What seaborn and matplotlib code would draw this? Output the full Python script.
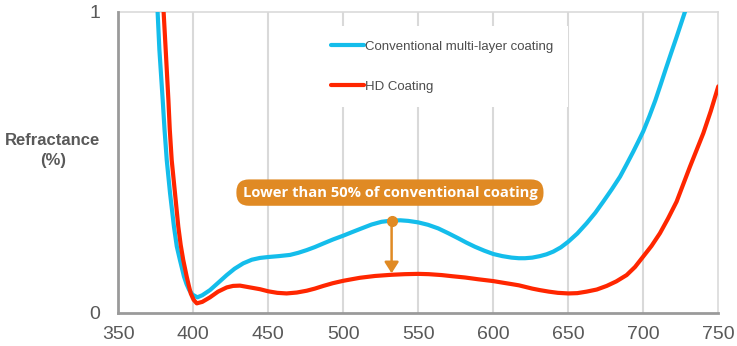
import numpy as np
import pandas as pd
import matplotlib
matplotlib.use("Agg")
import matplotlib.pyplot as plt
import seaborn as sns

# ---- data ----
conv_x = [374.5, 376.2, 377.4, 378.5, 379.6, 380.8, 382.3, 384.5, 387.1, 389.0, 391.1,
          393.8, 395.5, 397.3, 399.5, 402.7, 406.0, 411.1, 416.5, 422.3, 427.5, 433.3,
          439.0, 444.5, 450.0, 457.0, 464.5, 470.0, 475.6, 481.0, 486.7, 493.0, 500.0,
          505.5, 511.1, 518.9, 525.5, 532.2, 538.0, 543.3, 550.0, 556.5, 563.3, 570.0,
          576.7, 582.0, 587.8, 594.0, 600.0, 606.0, 612.2, 617.0, 621.1, 626.0, 631.1,
          635.5, 640.0, 645.0, 650.0, 656.0, 662.2, 668.0, 673.3, 679.0, 684.5, 689.0,
          693.3, 696.8, 700.0, 704.0, 708.0, 711.5, 715.0, 718.5, 722.0, 725.0, 727.8,
          731.0]
conv_y = [1.15, 1.00, 0.873, 0.79, 0.707, 0.61, 0.507, 0.397, 0.286, 0.22, 0.175,
          0.12, 0.095, 0.075, 0.060, 0.051, 0.058, 0.075, 0.099, 0.125, 0.146, 0.164,
          0.176, 0.182, 0.185, 0.188, 0.192, 0.199, 0.208, 0.218, 0.230, 0.243, 0.256,
          0.267, 0.278, 0.293, 0.302, 0.306, 0.307, 0.305, 0.300, 0.292, 0.280, 0.264,
          0.247, 0.233, 0.219, 0.206, 0.195, 0.188, 0.183, 0.181, 0.181, 0.183, 0.188,
          0.194, 0.203, 0.217, 0.236, 0.263, 0.297, 0.332, 0.369, 0.410, 0.452, 0.494,
          0.535, 0.570, 0.603, 0.652, 0.705, 0.757, 0.810, 0.862, 0.913, 0.958, 1.00,
          1.05]

hd_x = [379.0, 380.2, 381.6, 382.5, 383.4, 384.3, 385.6, 387.8, 390.0, 391.6, 393.3,
        395.6, 397.0, 398.3, 400.2, 402.3, 406.0, 411.1, 416.5, 422.3, 426.5, 431.1,
        437.8, 444.5, 450.0, 456.0, 462.2, 469.0, 475.6, 481.0, 486.7, 493.0, 500.0,
        505.5, 511.1, 521.1, 532.2, 541.0, 550.0, 557.0, 565.6, 573.0, 581.1, 590.0,
        600.0, 606.0, 612.2, 617.0, 621.1, 626.0, 631.1, 637.0, 643.0, 650.0, 656.0,
        662.2, 669.0, 675.6, 682.0, 688.9, 694.5, 700.0, 705.5, 711.1, 716.5, 722.2,
        726.5, 731.1, 735.5, 740.0, 745.0, 750.0]
hd_y = [1.15, 1.00, 0.873, 0.79, 0.707, 0.61, 0.507, 0.397, 0.286, 0.225, 0.175,
        0.120, 0.090, 0.064, 0.043, 0.031, 0.036, 0.051, 0.070, 0.084, 0.089, 0.090,
        0.084, 0.078, 0.071, 0.066, 0.064, 0.067, 0.073, 0.080, 0.089, 0.098, 0.106,
        0.111, 0.116, 0.122, 0.126, 0.128, 0.129, 0.128, 0.125, 0.121, 0.117, 0.111,
        0.105, 0.100, 0.095, 0.091, 0.086, 0.080, 0.075, 0.070, 0.066, 0.064, 0.065,
        0.070, 0.077, 0.089, 0.104, 0.125, 0.152, 0.187, 0.222, 0.264, 0.313, 0.369,
        0.425, 0.485, 0.540, 0.596, 0.670, 0.752]

series_names = ["Conventional multi-layer coating", "HD Coating"]
series_colors = ["#14BDEB", "#FF2600"]
x_ticks = [350, 400, 450, 500, 550, 600, 650, 700, 750]
y_ticks = [0, 1]
y_label = "Refractance\n(%)"
annot_text = "Lower than 50% of conventional coating"
annot_x = 532.2
annot_y_top = 0.306
annot_y_bottom = 0.131

df = pd.concat([
    pd.DataFrame({"wavelength": conv_x, "value": conv_y, "series": series_names[0]}),
    pd.DataFrame({"wavelength": hd_x, "value": hd_y, "series": series_names[1]}),
], ignore_index=True)

sns.set_theme(style="white")
plt.rcParams["font.family"] = ["Liberation Sans", "DejaVu Sans"]

fig = plt.figure(figsize=(7.37, 3.46), dpi=100)
ax = fig.add_axes([118.3 / 737, 33.3 / 346, 600 / 737, 301 / 346])

sns.lineplot(data=df, x="wavelength", y="value", hue="series",
             palette=dict(zip(series_names, series_colors)),
             estimator=None, sort=False, linewidth=3.0, legend=False, ax=ax,
             zorder=3, solid_joinstyle="round", solid_capstyle="round")

ax.set_xlim(350, 750)
ax.set_ylim(0, 1)
ax.set_xticks(x_ticks)
ax.set_xticklabels([str(t) for t in x_ticks])
ax.set_yticks(y_ticks)
ax.set_yticklabels([str(t) for t in y_ticks])
ax.tick_params(axis="both", length=0, labelsize=14, labelcolor="#595959")
ax.tick_params(axis="x", pad=9.5)
ax.tick_params(axis="y", pad=13)

ax.grid(False)
for xv in x_ticks[1:-1]:
    ax.axvline(xv, color="#D9D9D9", linewidth=1.5, zorder=1)

for side in ["top", "right"]:
    ax.spines[side].set_color("#DADADA")
    ax.spines[side].set_linewidth(1.2)
for side in ["left", "bottom"]:
    ax.spines[side].set_color("#9A9A9A")
    ax.spines[side].set_linewidth(2.0)
    ax.spines[side].set_zorder(4)

ax.set_xlabel("")
ax.set_ylabel(y_label, rotation=0, fontsize=12, fontweight="bold",
              color="#595959", ha="center", va="center", linespacing=1.4)
ax.yaxis.set_label_coords(-0.109, 0.54)

# legend
handles = ax.get_lines()[:2]
leg = ax.legend(handles, series_names, loc="upper left",
                bbox_to_anchor=((316 - 118.3) / 600, (312.7 - 26) / 301),
                frameon=True, fancybox=False, facecolor="white", edgecolor="none",
                framealpha=1.0, fontsize=9.5, handlelength=2.5, handletextpad=0.15,
                labelspacing=2.1, borderpad=1.1, borderaxespad=0)
for t in leg.get_texts():
    t.set_color("#4D4D4D")
for h in leg.get_lines():
    h.set_linewidth(3.0)
leg.set_zorder(5)

# annotation
orange = "#E08A24"
ax.annotate("", xy=(annot_x, annot_y_bottom), xytext=(annot_x, annot_y_top),
            arrowprops=dict(arrowstyle="-|>,head_length=0.55,head_width=0.35",
                            color=orange, linewidth=1.8, shrinkA=0, shrinkB=0),
            zorder=6)
ax.plot([annot_x], [annot_y_top], "o", color=orange, markersize=7, zorder=7)
ax.text(531.1, 0.399, annot_text, ha="center", va="center", fontsize=10.6,
        fontweight="bold", color="white", family=["Open Sans", "DejaVu Sans"],
        bbox=dict(boxstyle="round,pad=0.42,rounding_size=0.85", fc=orange, ec="none"),
        zorder=8)

fig.savefig("out.png", dpi=100)
